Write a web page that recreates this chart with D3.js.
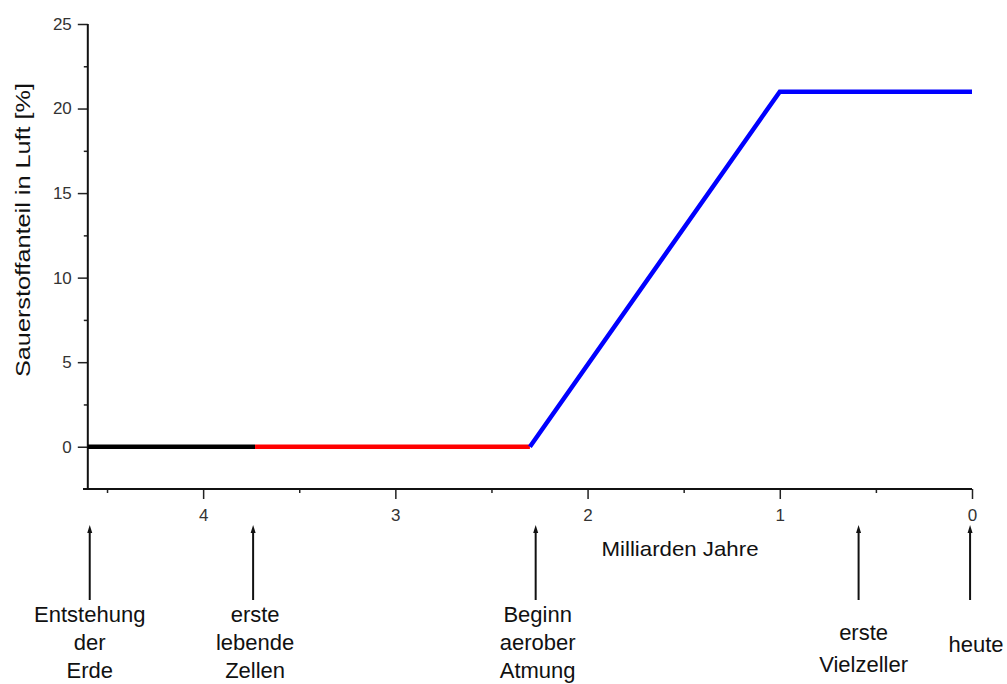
<!DOCTYPE html>
<html><head><meta charset="utf-8">
<script src="https://cdn.jsdelivr.net/npm/d3@7"></script>
<style>
html,body{margin:0;padding:0;background:#fff;}
svg{display:block;font-family:"Liberation Sans",Arial,sans-serif;}
</style></head>
<body>
<svg id="c" width="1007" height="684"></svg>
<script>
// Data
const xMajorTicks = [4, 3, 2, 1, 0];
const xMinorTicks = [4.5, 3.5, 2.5, 1.5, 0.5];
const yMajorTicks = [0, 5, 10, 15, 20, 25];
const yMinorTicks = [2.5, 7.5, 12.5, 17.5, 22.5];
const seriesBlack = [[4.6, 0], [3.73, 0]];
const seriesRed = [[3.73, 0], [2.3, 0]];
const seriesBlue = [[2.3, 0], [1.0, 21], [0, 21]];
const eventPos = [4.59, 3.74, 2.27, 0.59, 0.01];
const eventLabels = [
  ["Entstehung", "der", "Erde"],
  ["erste", "lebende", "Zellen"],
  ["Beginn", "aerober", "Atmung"],
  ["erste", "Vielzeller"],
  ["heute"]
];
const xTitle = "Milliarden Jahre";
const yTitle = "Sauerstoffanteil in Luft [%]";

const svg = d3.select("#c");
const x = d3.scaleLinear().domain([4.625, 0]).range([83, 972]);
const y = d3.scaleLinear().domain([-2.5, 25]).range([489, 24]);
const axisX0 = 4.6; // where y axis sits

// Y axis
const gy = svg.append("g").attr("transform", `translate(${x(axisX0)},0)`);
gy.call(d3.axisLeft(y).tickValues(yMinorTicks).tickSize(4).tickFormat(""))
  .call(g => g.select(".domain").remove());
gy.append("g").call(d3.axisLeft(y).tickValues(yMajorTicks).tickSize(10).tickPadding(6))
  .call(g => g.select(".domain").remove());
gy.append("line").attr("x1", 0).attr("x2", 0).attr("y1", y(25)).attr("y2", y(-2.5))
  .attr("stroke", "#111").attr("stroke-width", 2);
gy.selectAll(".tick line").attr("stroke", "#222").attr("stroke-width", 1.5);
gy.selectAll(".tick text").attr("font-size", 17).attr("fill", "#333")
  .attr("font-family", "Liberation Sans, Arial, sans-serif");

// X axis
const gx = svg.append("g").attr("transform", `translate(0,${y(-2.5)})`);
gx.call(d3.axisBottom(x).tickValues(xMinorTicks).tickSize(4).tickFormat(""))
  .call(g => g.select(".domain").remove());
gx.append("g").call(d3.axisBottom(x).tickValues(xMajorTicks).tickSize(10).tickPadding(10).tickFormat(d3.format("d")))
  .call(g => g.select(".domain").remove());
gx.append("line").attr("x1", x(4.625)).attr("x2", x(0)).attr("y1", 0).attr("y2", 0)
  .attr("stroke", "#111").attr("stroke-width", 2);
gx.selectAll(".tick line").attr("stroke", "#222").attr("stroke-width", 1.5);
gx.selectAll(".tick text").attr("font-size", 17).attr("fill", "#333")
  .attr("font-family", "Liberation Sans, Arial, sans-serif");

// Lines
const line = d3.line().x(d => x(d[0])).y(d => y(d[1]));
[[seriesBlack, "#000000"], [seriesRed, "#ff0000"], [seriesBlue, "#0000ff"]].forEach(([d, c]) => {
  svg.append("path").datum(d).attr("d", line).attr("fill", "none")
    .attr("stroke", c).attr("stroke-width", 4.5).attr("stroke-linejoin", "miter");
});

// Titles
svg.append("text").attr("x", 680).attr("y", 556).attr("text-anchor", "middle")
  .attr("font-size", 21).attr("fill", "#111").attr("textLength", 157).attr("lengthAdjust", "spacingAndGlyphs")
  .text(xTitle);
svg.append("text").attr("transform", "translate(30,230) rotate(-90)").attr("text-anchor", "middle")
  .attr("font-size", 21).attr("fill", "#111").attr("textLength", 294).attr("lengthAdjust", "spacingAndGlyphs")
  .text(yTitle);

// Event arrows
const arrowTop = 525, arrowBottom = 600;
const gEv = svg.append("g");
eventPos.forEach((p, i) => {
  const cx = x(p);
  gEv.append("line").attr("x1", cx).attr("x2", cx).attr("y1", arrowTop + 5).attr("y2", arrowBottom)
    .attr("stroke", "#111").attr("stroke-width", 2);
  gEv.append("path").attr("d", `M${cx},${arrowTop} L${cx - 2.5},${arrowTop + 8} L${cx + 2.5},${arrowTop + 8} Z`)
    .attr("fill", "#111");
});
const labelBase = [622, 622, 622, 640, 652];
const labelDx = [0, 2, 2, 5, 6];
const lineGap = [28, 28, 28, 32, 30];
eventLabels.forEach((lines, i) => {
  const t = gEv.append("text").attr("text-anchor", "middle").attr("font-size", 22).attr("fill", "#111");
  lines.forEach((s, j) => {
    t.append("tspan").attr("x", x(eventPos[i]) + labelDx[i]).attr("y", labelBase[i] + j * lineGap[i]).text(s);
  });
});
</script>
</body></html>
